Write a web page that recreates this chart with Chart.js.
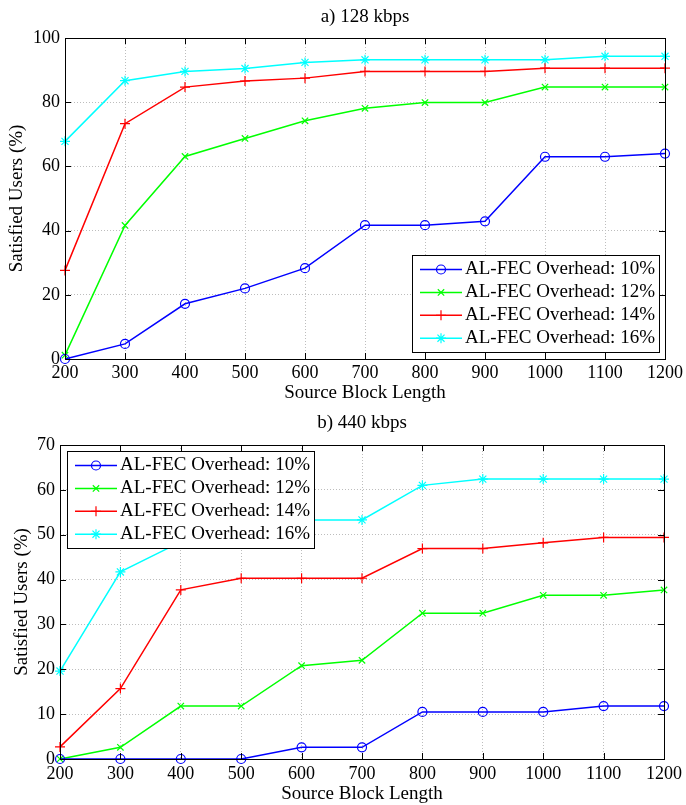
<!DOCTYPE html>
<html>
<head>
<meta charset="utf-8">
<script src="https://cdn.jsdelivr.net/npm/chart.js@4"></script>
<style>
  body { margin: 0; background: #fff; }
  canvas { display: block; }
</style>
</head>
<body>
<canvas id="chartA" width="686" height="404"></canvas>
<canvas id="chartB" width="686" height="401"></canvas>
<script>
// x values shared by both panels
const blockLengths = [200, 300, 400, 500, 600, 700, 800, 900, 1000, 1100, 1200];
const seriesLabels = [
  "AL-FEC Overhead: 10%",
  "AL-FEC Overhead: 12%",
  "AL-FEC Overhead: 14%",
  "AL-FEC Overhead: 16%"
];

// a) 128 kbps
const a10 = [0, 4.7, 17.2, 22.0, 28.3, 41.7, 41.7, 42.9, 63.0, 63.0, 64.0];
const a12 = [1.2, 41.6, 63.1, 68.7, 74.2, 78.1, 79.9, 79.9, 84.7, 84.7, 84.7];
const a14 = [27.6, 73.3, 84.7, 86.6, 87.5, 89.6, 89.6, 89.6, 90.6, 90.6, 90.6];
const a16 = [67.8, 86.7, 89.6, 90.5, 92.4, 93.2, 93.2, 93.2, 93.2, 94.3, 94.3];

// b) 440 kbps
const b10 = [0, 0, 0, 0, 2.6, 2.6, 10.5, 10.5, 10.5, 11.8, 11.8];
const b12 = [0, 2.6, 11.8, 11.8, 20.8, 22.0, 32.5, 32.5, 36.5, 36.5, 37.7];
const b14 = [2.7, 15.7, 37.7, 40.3, 40.3, 40.3, 46.9, 46.9, 48.2, 49.4, 49.4];
const b16 = [19.6, 41.7, 48.4, 50.8, 53.3, 53.3, 61.0, 62.4, 62.4, 62.4, 62.4];

const xTicks = blockLengths;
const yTicksA = [0, 20, 40, 60, 80, 100];
const yTicksB = [0, 10, 20, 30, 40, 50, 60, 70];

const colors = ["#0000ff", "#00ff00", "#ff0000", "#00ffff"];
const markers = ["circle", "crossRot", "cross", "star"];
const radii = [4.5, 4.5, 5, 5];

const SERIF = '"Liberation Serif", "Times New Roman", serif';
Chart.defaults.font.family = SERIF;
Chart.defaults.color = "#000";

// box + inward ticks on all four sides, matlab style
const frame = {
  id: "frame",
  afterDraw(chart) {
    const { ctx, chartArea: a, scales: { x, y } } = chart;
    ctx.save();
    ctx.strokeStyle = "#000";
    ctx.lineWidth = 1;
    ctx.beginPath();
    x.ticks.forEach(t => {
      const px = Math.round(x.getPixelForValue(t.value)) + 0.5;
      ctx.moveTo(px, a.bottom); ctx.lineTo(px, a.bottom - 6);
      ctx.moveTo(px, a.top); ctx.lineTo(px, a.top + 6);
    });
    y.ticks.forEach(t => {
      const py = Math.round(y.getPixelForValue(t.value)) + 0.5;
      ctx.moveTo(a.left, py); ctx.lineTo(a.left + 6, py);
      ctx.moveTo(a.right, py); ctx.lineTo(a.right - 6, py);
    });
    ctx.stroke();
    ctx.strokeRect(Math.round(a.left) + 0.5, Math.round(a.top) + 0.5,
      Math.round(a.right - a.left), Math.round(a.bottom - a.top));
    ctx.restore();
  }
};

// legend drawn inside the plot area with a white box
const boxLegend = {
  id: "boxLegend",
  afterDatasetsDraw(chart, args, opts) {
    const { ctx, chartArea: a } = chart;
    const w = 247, h = 97;
    const left = opts.corner === "topLeft" ? a.left + 7 : a.right - 6 - w;
    const top = opts.corner === "topLeft" ? a.top + 6 : a.bottom - 7 - h;
    ctx.save();
    ctx.fillStyle = "#fff";
    ctx.fillRect(left, top, w, h);
    ctx.strokeStyle = "#000";
    ctx.lineWidth = 1;
    ctx.strokeRect(Math.round(left) + 0.5, Math.round(top) + 0.5, w, h);
    ctx.font = "19px " + SERIF;
    ctx.textBaseline = "middle";
    chart.data.datasets.forEach((ds, i) => {
      const yy = top + 14.5 + i * 22.9;
      ctx.strokeStyle = ds.borderColor;
      ctx.lineWidth = 1.5;
      ctx.beginPath();
      ctx.moveTo(left + 8, yy);
      ctx.lineTo(left + 50, yy);
      ctx.stroke();
      ctx.fillStyle = "rgba(0,0,0,0)";
      ctx.lineWidth = ds.pointBorderWidth;
      Chart.helpers.drawPoint(ctx, {
        pointStyle: ds.pointStyle, radius: ds.pointRadius,
        borderWidth: ds.pointBorderWidth, rotation: 0
      }, left + 29, yy);
      ctx.fillStyle = "#000";
      ctx.fillText(ds.label, left + 53, yy);
    });
    ctx.restore();
  }
};

function makeChart(id, title, series, yTicks, yMax, lay) {
  const datasets = series.map((vals, i) => ({
    label: seriesLabels[i],
    data: blockLengths.map((bl, j) => ({ x: bl, y: vals[j] })),
    borderColor: colors[i],
    backgroundColor: "rgba(0,0,0,0)",
    borderWidth: 1.5,
    pointStyle: markers[i],
    pointRadius: radii[i],
    pointBorderWidth: 1.2,
    pointBorderColor: colors[i],
    pointBackgroundColor: "rgba(0,0,0,0)",
    tension: 0,
    clip: false
  }));

  return new Chart(document.getElementById(id), {
    type: "line",
    data: { datasets },
    options: {
      responsive: false,
      animation: false,
      layout: { padding: { left: 0, right: lay.right, top: 0, bottom: 0 } },
      plugins: {
        legend: { display: false },
        tooltip: { enabled: false },
        title: {
          display: true,
          text: title,
          fullSize: false,
          font: { size: 19, weight: "normal" },
          padding: { top: lay.titleTop, bottom: lay.titleBottom }
        },
        boxLegend: { corner: lay.corner }
      },
      scales: {
        x: {
          type: "linear",
          min: 200,
          max: 1200,
          afterBuildTicks: s => { s.ticks = xTicks.map(v => ({ value: v })); },
          afterFit: s => { s.height = lay.xHeight; },
          ticks: {
            font: { size: 18 },
            padding: lay.xPad,
            maxRotation: 0,
            callback: v => String(v)
          },
          grid: { color: "#bdbdbd", drawTicks: false },
          border: { display: false, dash: [1, 2] },
          title: {
            display: true,
            text: "Source Block Length",
            font: { size: 19 },
            padding: { top: 0, bottom: 0 }
          }
        },
        y: {
          min: 0,
          max: yMax,
          afterBuildTicks: s => { s.ticks = yTicks.map(v => ({ value: v })); },
          afterFit: s => { s.width = lay.yWidth; },
          ticks: { font: { size: 18 }, padding: 5, callback: v => String(v) },
          grid: { color: "#bdbdbd", drawTicks: false },
          border: { display: false, dash: [1, 2] },
          title: {
            display: true,
            text: "Satisfied Users (%)",
            font: { size: 19 },
            padding: { top: lay.yTitlePad, bottom: 0 }
          }
        }
      }
    },
    plugins: [boxLegend, frame]
  });
}

makeChart("chartA", "a) 128 kbps", [a10, a12, a14, a16], yTicksA, 100, {
  right: 20, titleTop: 5.6, titleBottom: 9.6, xHeight: 45, xPad: 3,
  yWidth: 65, yTitlePad: 5.3, corner: "bottomRight"
});

makeChart("chartB", "b) 440 kbps", [b10, b12, b14, b16], yTicksB, 70, {
  right: 21, titleTop: 7.6, titleBottom: 10.6, xHeight: 46, xPad: 4,
  yWidth: 60, yTitlePad: 10.3, corner: "topLeft"
});
</script>
</body>
</html>
